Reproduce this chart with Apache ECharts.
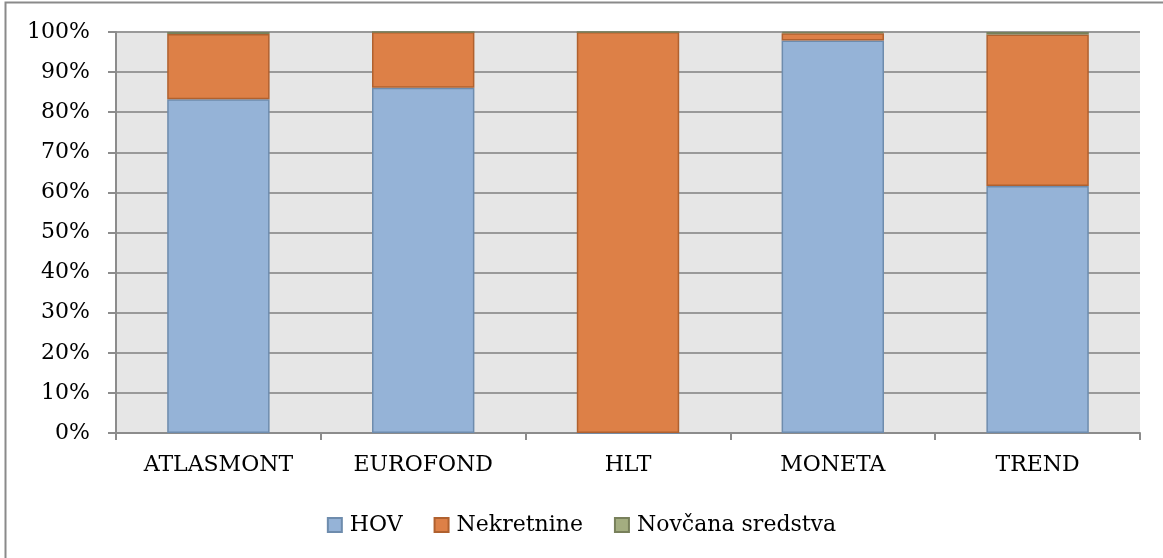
<!DOCTYPE html>
<html>
<head>
<meta charset="utf-8">
<script src="https://cdn.jsdelivr.net/npm/echarts@6/dist/echarts.min.js"></script>
<style>
html,body{margin:0;padding:0;background:#fff;}
#chart{width:1163px;height:558px;}
</style>
</head>
<body>
<div id="chart"></div>
<script>
const categories = ['ATLASMONT', 'EUROFOND', 'HLT', 'MONETA', 'TREND'];
const seriesNames = ['HOV', 'Nekretnine', 'Novčana sredstva'];
const hov = [83.2, 86.1, 0, 97.9, 61.6];
const nekretnine = [16.3, 13.9, 100, 1.8, 37.8];
const novcana = [0.5, 0, 0, 0.3, 0.6];
const yTicks = [0, 10, 20, 30, 40, 50, 60, 70, 80, 90, 100];

const fills = ['#95b3d7', '#dd8047', '#a3ad80'];
const borders = ['#6e8cad', '#b0612f', '#78805b'];
const font = '"DejaVu Serif", "Liberation Serif", serif';

const chart = echarts.init(document.getElementById('chart'), null, {renderer: 'canvas'});
const dataSets = [hov, nekretnine, novcana];

chart.setOption({
  animation: false,
  backgroundColor: '#ffffff',
  graphic: [{
    type: 'rect',
    shape: {x: 5.5, y: 2.5, width: 1300, height: 700},
    style: {fill: 'none', stroke: '#8a8a8a', lineWidth: 2},
    silent: true,
    z: -10
  }],
  grid: {
    left: 116, right: 23, top: 32, bottom: 125,
    show: true, backgroundColor: '#e6e6e6', borderWidth: 0
  },
  legend: {
    top: 509,
    left: 'center',
    itemWidth: 14,
    itemHeight: 14,
    itemGap: 31,
    icon: 'rect',
    textStyle: {fontFamily: font, fontSize: 22, color: '#000', padding: [0, 0, 0, 3]},
    data: seriesNames
  },
  xAxis: {
    type: 'category',
    data: categories,
    axisLine: {show: true, lineStyle: {color: '#8c8c8c', width: 2}},
    axisTick: {show: true, length: 7, lineStyle: {color: '#8c8c8c', width: 2}},
    axisLabel: {fontFamily: font, fontSize: 22, color: '#000', margin: 21},
    splitLine: {show: false}
  },
  yAxis: {
    type: 'value',
    min: yTicks[0],
    max: yTicks[yTicks.length - 1],
    interval: 10,
    axisLine: {show: true, lineStyle: {color: '#8c8c8c', width: 2}},
    axisTick: {show: true, length: 8, lineStyle: {color: '#8c8c8c', width: 2}},
    axisLabel: {fontFamily: font, fontSize: 22, color: '#000', margin: 26, formatter: '{value}%'},
    splitLine: {show: true, lineStyle: {color: '#999999', width: 2}}
  },
  series: seriesNames.map((name, i) => ({
    name: name,
    type: 'bar',
    stack: 'total',
    barWidth: '50%',
    data: dataSets[i],
    itemStyle: {color: fills[i], borderColor: borders[i], borderWidth: 1.5}
  }))
});
</script>
</body>
</html>
